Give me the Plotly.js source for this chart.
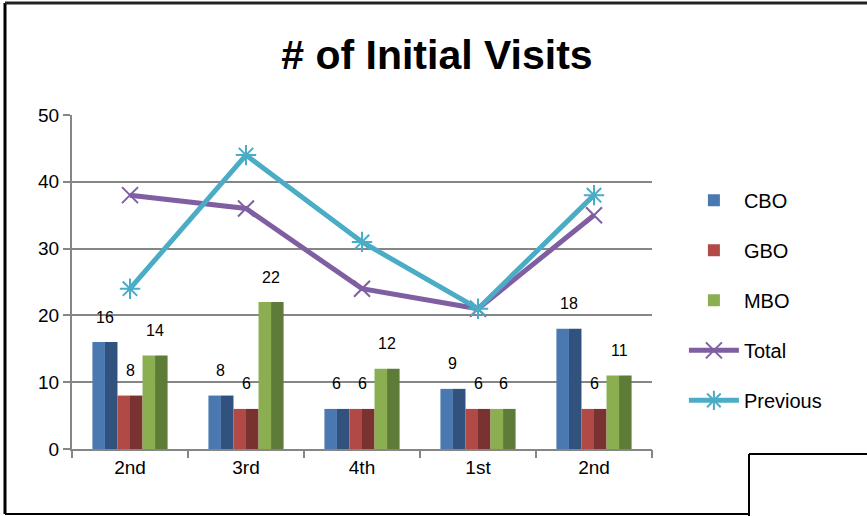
<!DOCTYPE html>
<html>
<head>
<meta charset="utf-8">
<script src="https://cdn.plot.ly/plotly-3.0.1.min.js"></script>
<style>html,body{margin:0;padding:0;background:#fff;}#chart{width:867px;height:516px;}</style>
</head>
<body>
<div id="chart"></div>
<script>
const categories = ["2nd", "3rd", "4th", "1st", "2nd"];
const cbo = [16, 8, 6, 9, 18];
const gbo = [8, 6, 6, 6, 6];
const mbo = [14, 22, 12, 6, 11];
const total = [38, 36, 24, 21, 35];
const previous = [24, 44, 31, 21, 38];
const yTicks = [0, 10, 20, 30, 40, 50];

const xs = categories.map((c, i) => i);
const FONT = "Liberation Sans, Arial, sans-serif";
const half = 0.108;

function barPair(name, vals, light, dark, off) {
  return [
    {type: "bar", name: name, x: xs, y: vals, offset: off, width: half,
     marker: {color: light, line: {width: 0}}, legendgroup: name, showlegend: true,
     hoverinfo: "y"},
    {type: "bar", name: name, x: xs, y: vals, offset: off + half, width: half,
     marker: {color: dark, line: {width: 0}}, legendgroup: name, showlegend: false,
     hoverinfo: "skip"}
  ];
}

const traces = [
  ...barPair("CBO", cbo, "#4a78b0", "#30527d", -3 * half),
  ...barPair("GBO", gbo, "#b14a47", "#7a3231", -1 * half),
  ...barPair("MBO", mbo, "#8aae50", "#5e7b37", 1 * half),
  {type: "scatter", mode: "lines+markers", name: "Total", x: xs, y: total,
   line: {color: "#7f5fa1", width: 5}, legendgroup: "Total",
   marker: {symbol: "x-thin-open", size: 16, color: "#7f5fa1", line: {color: "#7f5fa1", width: 2}}},
  {type: "scatter", mode: "lines+markers", name: "Previous", x: xs, y: previous,
   line: {color: "#4bacc6", width: 5}, legendgroup: "Previous",
   marker: {symbol: "asterisk-open", size: 17, color: "#4bacc6", line: {color: "#4bacc6", width: 2}}},
  {type: "scatter", mode: "none", x: [-0.5, 4.5], y: [0, 0], xaxis: "x2", showlegend: false, hoverinfo: "skip"}
];

const annotations = [];
[[cbo, -2], [gbo, 0], [mbo, 2]].forEach(([vals, k]) => {
  vals.forEach((v, i) => {
    annotations.push({x: i + k * half, y: v, xref: "x", yref: "y", text: String(v),
      showarrow: false, yshift: 25, font: {family: FONT, size: 16, color: "#000"}});
  });
});

const pw = 867 - 72 - 215, ph = 516 - 115 - 67;
function px(x) { return (x - 72) / pw; }
function py(y) { return (516 - 67 - y) / ph; }

const layout = {
  width: 867, height: 516,
  margin: {l: 72, r: 215, t: 115, b: 67},
  paper_bgcolor: "#fff", plot_bgcolor: "#fff",
  title: {text: "<b># of Initial Visits</b>", font: {family: FONT, size: 41, color: "#000"},
          x: 0.504, xanchor: "center", y: 0.895, yanchor: "middle"},
  barmode: "overlay",
  showlegend: true,
  xaxis: {range: [-0.5, 4.5], tickvals: xs, ticktext: categories, ticks: "",
          showgrid: false, zeroline: false, showline: true, linecolor: "#868686", linewidth: 2,
          tickfont: {family: FONT, size: 19, color: "#000"}, fixedrange: true},
  xaxis2: {overlaying: "x", matches: "x", range: [-0.5, 4.5], tickvals: [-0.5, 0.5, 1.5, 2.5, 3.5, 4.5],
           showticklabels: false, ticks: "outside", ticklen: 8, tickwidth: 2, tickcolor: "#868686",
           showgrid: false, zeroline: false, side: "bottom", anchor: "y"},
  yaxis: {range: [0, 50], tickvals: yTicks, ticks: "outside", ticklen: 7, tickwidth: 2, tickcolor: "#868686",
          showgrid: true, gridcolor: "#868686", gridwidth: 2, zeroline: false,
          showline: true, linecolor: "#868686", linewidth: 2,
          tickfont: {family: FONT, size: 19, color: "#000"}, fixedrange: true},
  legend: {x: 1.055, xanchor: "left", y: 0.445, yanchor: "middle", traceorder: "grouped",
           tracegroupgap: 21, font: {family: FONT, size: 20, color: "#000"}, itemwidth: 50,
           bgcolor: "rgba(0,0,0,0)"},
  annotations: annotations,
  shapes: [
    {type: "line", xref: "paper", yref: "paper", x0: px(5), x1: px(5), y0: py(3), y1: py(514), line: {color: "#000", width: 3}},
    {type: "line", xref: "paper", yref: "paper", x0: px(5), x1: px(867), y0: py(3), y1: py(3), line: {color: "#222", width: 3}},
    {type: "line", xref: "paper", yref: "paper", x0: px(5), x1: px(749), y0: py(514), y1: py(514), line: {color: "#000", width: 2}},
    {type: "line", xref: "paper", yref: "paper", x0: px(749), x1: px(749), y0: py(454), y1: py(516), line: {color: "#000", width: 2}},
    {type: "line", xref: "paper", yref: "paper", x0: px(749), x1: px(867), y0: py(454), y1: py(454), line: {color: "#000", width: 2}}
  ]
};

Plotly.newPlot("chart", traces, layout, {displayModeBar: false, staticPlot: true});
</script>
</body>
</html>
